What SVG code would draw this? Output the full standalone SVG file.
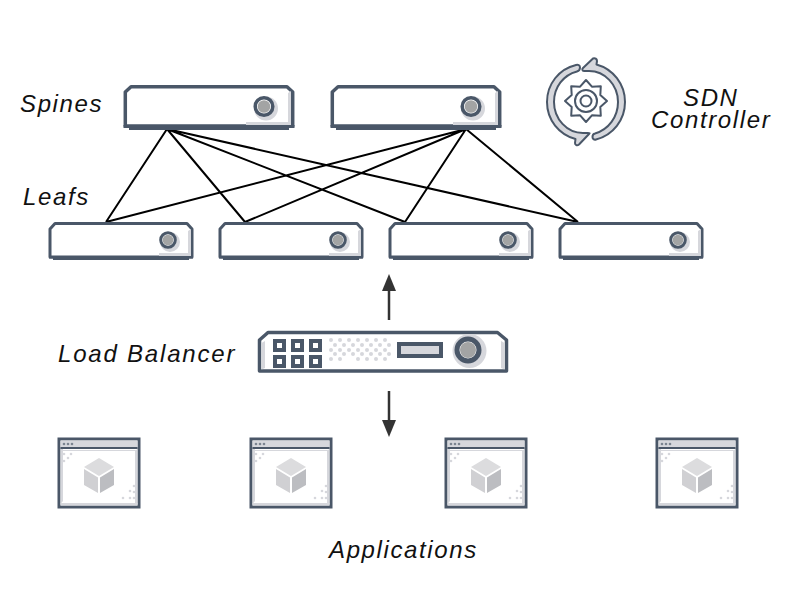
<svg xmlns="http://www.w3.org/2000/svg" width="800" height="600" viewBox="0 0 800 600">
<style>
text{font-family:"Liberation Sans",Arial,sans-serif;font-style:italic;font-size:24px;letter-spacing:1.62px;fill:#111}
.o{fill:#fff;stroke:#4a5768;stroke-linejoin:round}
.d{fill:#4a5768}
.s{fill:#d6d7dc}
.k{fill:none;stroke:#4a5768}
.g{fill:#a3a4a4}
.w{stroke:#000;stroke-width:2;fill:none}
.a{stroke:#333;stroke-width:2.5;fill:none}
.p{fill:#d6d7dc;stroke:#4a5768;stroke-width:2;stroke-linejoin:round}
</style>
<defs>
<g id="spine">
<path class="o" stroke-width="3.500" d="M7 1.800H163L168.700 7V41H1.300V7Z"/>
<rect x="-0.500" y="40" width="171" height="3" class="d"/>
<rect x="5" y="42.500" width="160" height="2.500" class="d"/>
<path class="s" d="M164 8L167 6V38.500H164Z"/>
<path class="s" d="M122 37H167V40H122Z"/>
<circle cx="142" cy="23.500" r="12" class="s"/>
<circle cx="140" cy="21.500" r="8.800" fill="#fff" stroke="#4a5768" stroke-width="3.500"/>
<circle cx="140" cy="21.500" r="6.300" class="g"/>
</g>
<g id="leaf">
<path class="o" stroke-width="3" d="M6 1.500H138L143 7V35H1V7Z"/>
<rect x="0" y="34" width="144" height="2.500" class="d"/>
<rect x="4" y="36" width="136" height="2" class="d"/>
<path class="s" d="M139 9L142 7V34H139Z"/>
<path class="s" d="M110 31H141V34H110Z"/>
<circle cx="121" cy="20" r="10" class="s"/>
<circle cx="119" cy="18" r="7.300" fill="#fff" stroke="#4a5768" stroke-width="3"/>
<circle cx="119" cy="18" r="5.300" class="g"/>
</g>
<g id="app">
<rect x="1" y="1" width="80" height="68" fill="#fff" stroke="#4a5768" stroke-width="3"/>
<rect x="2.500" y="2.500" width="77" height="7" class="s"/>
<rect x="2.500" y="9" width="77" height="2" class="d"/>
<circle cx="6" cy="6" r="1.300" fill="#7b8490"/><circle cx="10" cy="6" r="1.300" fill="#7b8490"/><circle cx="14" cy="6" r="1.300" fill="#7b8490"/>
<path class="s" d="M2.500 11H5V63L2.500 66Z"/>
<path class="s" d="M79.500 11V66H77V13Z"/>
<path class="s" d="M2.500 65H79.500V67.500H2.500Z"/>
<path fill="#d6d7dc" d="M4 12H78V13H4Z"/>
<g class="s"><circle cx="6" cy="16" r="1.300"/><circle cx="10" cy="20" r="1.300"/><circle cx="13" cy="16" r="1.300"/><circle cx="6" cy="23" r="1.300"/><circle cx="76" cy="48" r="1.300"/><circle cx="72" cy="53" r="1.300"/><circle cx="76" cy="54" r="1.300"/><circle cx="72" cy="60" r="1.300"/><circle cx="76" cy="60" r="1.300"/><circle cx="65" cy="60" r="1.300"/></g>
<path fill="#dcdcde" d="M41 20L56 29L41 38L26 29Z"/>
<path fill="#d0d0d3" d="M26 31L40 39.500V55L26 47Z"/>
<path fill="#bcbdc1" d="M56 31L42 39.500V55L56 47Z"/>
</g>
</defs>

<g id="connectors">
<path class="w" d="M167 129L106 222M167 129L245 222M167 129L405 222M167 129L578 222M466 129L106 222M466 129L245 222M466 129L405 222M466 129L578 222"/>
<path class="a" d="M389 320V288"/><path fill="#333" d="M389 274L396 291H382Z"/>
<path class="a" d="M389 391V423"/><path fill="#333" d="M389 437L382 420H396Z"/>
</g>

<g id="spine-1"><use href="#spine" x="124" y="85"/></g>
<g id="spine-2"><use href="#spine" x="331" y="85"/></g>
<g id="leaf-1"><use href="#leaf" x="49" y="222"/></g>
<g id="leaf-2"><use href="#leaf" x="219" y="222"/></g>
<g id="leaf-3"><use href="#leaf" x="389" y="222"/></g>
<g id="leaf-4"><use href="#leaf" x="559" y="222"/></g>

<g id="sdn-controller">
<path class="p" d="M583 68L593 58.500C595 57.500 597 59 597 61L596.500 64.500C613 69 625 84 625 102C625 120 613 135 596 139.500C594 140 592.500 139 592.500 137C592.500 135 593 134 595 133.500C608.500 129.500 618 117 618 102C618 85 605 71 589 71L584 71C582 71 582 69 583 68Z"/>
<path class="p" d="M589 134L579 144.500C577 146 575 145 575 143L575.500 139C559 134.500 547 120 547 102C547 84 559 69 576 65C578 64.500 580 65 580 67.500C580 69.500 579 71 577 71.500C563.500 75 554 87 554 102C554 119 567 133 583 133L588 133C590 133 590 133 589 134Z"/>
<path class="k" stroke-width="2" stroke-linejoin="round" d="M586 80L591.900 86.700L600.800 86.200L600.300 95.100L607 101L600.300 106.900L600.800 115.800L591.900 115.300L586 122L580.100 115.300L571.200 115.800L571.700 106.900L565 101L571.700 95.100L571.200 86.200L580.100 86.700Z"/>
<circle cx="586" cy="101" r="11" class="k" stroke-width="2"/>
<circle cx="586" cy="101" r="5.500" class="k" stroke-width="2"/>
</g>

<g id="load-balancer">
<path class="o" stroke-width="3.500" d="M268 332.500H497.500L506.500 340V371H259.500V340Z"/>
<path class="s" d="M261.500 343L265 341V368L261.500 369.500ZM504.500 343L501 341V368L504.500 369.500Z"/>
<g fill="#fff" stroke="#4a5768" stroke-width="4"><rect x="275" y="341" width="9" height="9"/><rect x="293" y="341" width="9" height="9"/><rect x="311" y="341" width="9" height="9"/><rect x="275" y="357" width="9" height="9"/><rect x="293" y="357" width="9" height="9"/><rect x="311" y="357" width="9" height="9"/></g>
<g class="s"><circle cx="331" cy="340" r="2"/><circle cx="340" cy="340" r="2"/><circle cx="349" cy="340" r="2"/><circle cx="358" cy="340" r="2"/><circle cx="367" cy="340" r="2"/><circle cx="376" cy="340" r="2"/><circle cx="385" cy="340" r="2"/><circle cx="335" cy="345" r="2"/><circle cx="344" cy="345" r="2"/><circle cx="353" cy="345" r="2"/><circle cx="362" cy="345" r="2"/><circle cx="371" cy="345" r="2"/><circle cx="380" cy="345" r="2"/><circle cx="389" cy="345" r="2"/><circle cx="331" cy="350" r="2"/><circle cx="340" cy="350" r="2"/><circle cx="349" cy="350" r="2"/><circle cx="358" cy="350" r="2"/><circle cx="367" cy="350" r="2"/><circle cx="376" cy="350" r="2"/><circle cx="385" cy="350" r="2"/><circle cx="335" cy="354" r="2"/><circle cx="344" cy="354" r="2"/><circle cx="353" cy="354" r="2"/><circle cx="362" cy="354" r="2"/><circle cx="371" cy="354" r="2"/><circle cx="380" cy="354" r="2"/><circle cx="389" cy="354" r="2"/><circle cx="331" cy="359" r="2"/><circle cx="340" cy="359" r="2"/><circle cx="358" cy="359" r="2"/><circle cx="367" cy="359" r="2"/><circle cx="376" cy="359" r="2"/><circle cx="385" cy="359" r="2"/></g>
<rect x="399" y="344" width="42" height="12" fill="#d6d7dc" stroke="#4a5768" stroke-width="4"/>
<circle cx="469.500" cy="351" r="17" class="s"/>
<circle cx="468" cy="350" r="11" fill="#fff" stroke="#4a5768" stroke-width="5"/>
<circle cx="468" cy="350" r="8" class="g"/>
</g>

<g id="app-1"><use href="#app" x="58" y="438"/></g>
<g id="app-2"><use href="#app" x="250" y="438"/></g>
<g id="app-3"><use href="#app" x="445" y="438"/></g>
<g id="app-4"><use href="#app" x="656" y="438"/></g>

<g id="labels">
<text x="20" y="112">Spines</text>
<text x="23" y="205">Leafs</text>
<text x="58" y="362" style="letter-spacing:1.8px">Load Balancer</text>
<text x="329" y="558">Applications</text>
<text><tspan x="683" y="106">SDN</tspan><tspan x="651" y="128">Controller</tspan></text>
</g>
</svg>
